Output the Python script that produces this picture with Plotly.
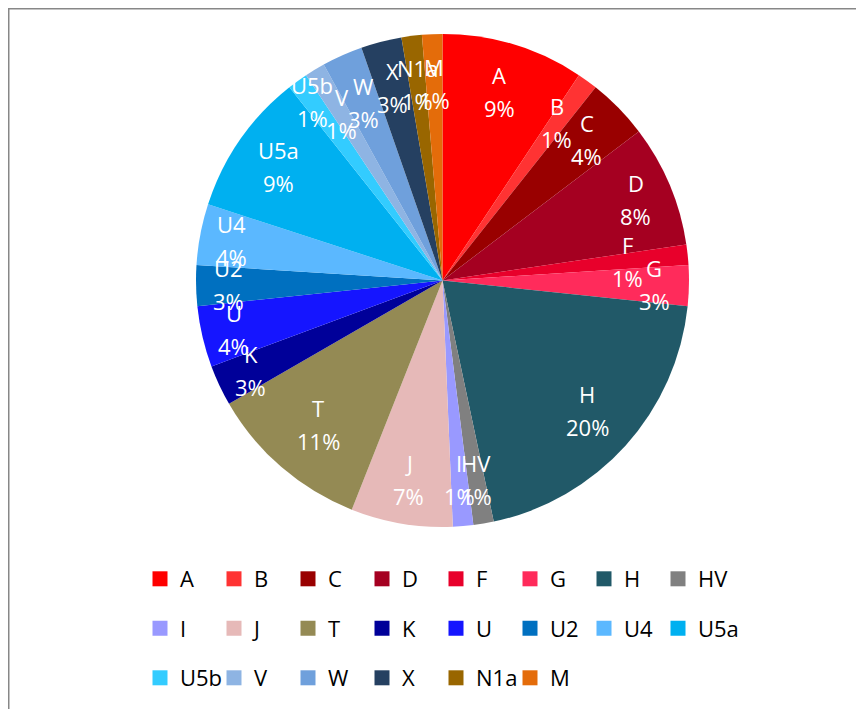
import math
import plotly.graph_objects as go

# ---- data ----
categories = ["A", "B", "C", "D", "F", "G", "H", "HV", "I", "J", "T", "K",
              "U", "U2", "U4", "U5a", "U5b", "V", "W", "X", "N1a", "M"]
counts = [7, 1, 3, 6, 1, 2, 15, 1, 1, 5, 8, 2, 3, 2, 3, 7, 1, 1, 2, 2, 1, 1]

# ---- style ----
colors = ["#FF0000", "#FF3333", "#990000", "#A50021", "#E8002B", "#FF2B5B",
          "#215968", "#808080", "#9999FF", "#E6B9B8", "#948A54", "#000099",
          "#1515FF", "#0070C0", "#5BB8FF", "#00B0F0", "#33CCFF", "#8EB4E3",
          "#6FA0DC", "#254061", "#996600", "#E46C0A"]
label_radius = {"A": 0.80, "B": 0.79, "C": 0.82, "D": 0.85, "F": 0.755, "G": 0.86,
                "H": 0.79, "HV": 0.82, "I": 0.81, "J": 0.82, "T": 0.77, "K": 0.86,
                "U": 0.87, "U2": 0.87, "U4": 0.87, "U5a": 0.81, "U5b": 0.90,
                "V": 0.79, "W": 0.79, "X": 0.81, "N1a": 0.80, "M": 0.80}

# the page body has an 8px margin: figure pixel = screen pixel - OFF
OFF = 8
SW, SH = 864, 709
W, H = SW - OFF, SH - OFF
CX, CY, R = 442.5, 280.5, 246.5          # screen pixels
FONT = "Open Sans, Noto Sans, sans-serif"
FS = 22
PER_ROW = 8
ROW_TOPS = [558.0, 607.5, 657.0]          # screen pixels
LEG_LEFT = 140                            # screen pixels


def fx(px):
    return (px - OFF) / W


def fy(py):
    return 1 - (py - OFF) / H


fig = go.Figure()
fig.add_trace(go.Pie(
    labels=categories,
    values=counts,
    marker=dict(colors=colors, line=dict(width=0)),
    sort=False,
    direction="clockwise",
    rotation=0,
    textinfo="none",
    showlegend=False,
    domain=dict(x=[fx(CX - R), fx(CX + R)], y=[fy(CY + R), fy(CY - R)]),
))

# legend entries (one legend per row, entries drawn from the categories)
legend_ids = ["legend", "legend2", "legend3"]
for i, (name, col) in enumerate(zip(categories, colors)):
    row = i // PER_ROW
    last_in_row = (i % PER_ROW == PER_ROW - 1) or (i == len(categories) - 1)
    fig.add_trace(go.Scatter(
        x=[None], y=[None], mode="markers", name=name,
        marker=dict(symbol="square", size=15, color=col, line=dict(width=0)),
        legend=legend_ids[row],
        legendwidth=60 if last_in_row else 29,
        showlegend=True, hoverinfo="skip",
    ))

total = sum(counts)
annotations = []
cum = 0
for name, v in zip(categories, counts):
    mid = (cum + v / 2) / total * 2 * math.pi
    cum += v
    rf = label_radius[name]
    px = CX + rf * R * math.sin(mid)
    py = CY - rf * R * math.cos(mid)
    pct = f"{round(v / total * 100)}%"
    for txt, ys in ((name, 16.5), (pct, -16.5)):
        annotations.append(dict(
            x=fx(px), y=fy(py), xref="paper", yref="paper",
            text=txt, showarrow=False, yshift=ys,
            xanchor="center", yanchor="middle",
            font=dict(family=FONT, size=FS, color="white"),
        ))

legend_common = dict(
    orientation="h", xanchor="left", yanchor="top",
    font=dict(family=FONT, size=FS, color="black"),
    entrywidthmode="pixels",
    bgcolor="rgba(0,0,0,0)",
    traceorder="normal",
)
layout_legends = {}
for lid, top in zip(legend_ids, ROW_TOPS):
    layout_legends[lid] = dict(legend_common, x=fx(LEG_LEFT), y=fy(top))

fig.update_layout(
    width=W, height=H,
    margin=dict(l=0, r=0, t=0, b=0, autoexpand=False),
    paper_bgcolor="white",
    plot_bgcolor="white",
    showlegend=True,
    xaxis=dict(visible=False, domain=[0, 1]),
    yaxis=dict(visible=False, domain=[0, 1]),
    annotations=annotations,
    shapes=[dict(
        type="rect", xref="paper", yref="paper",
        x0=fx(OFF + 0.75), x1=fx(SW + 20), y0=fy(SH + 20), y1=fy(OFF + 0.75),
        line=dict(color="#878787", width=1.5), fillcolor="rgba(0,0,0,0)",
        layer="above",
    )],
    **layout_legends,
)

fig.write_html("out.html")
